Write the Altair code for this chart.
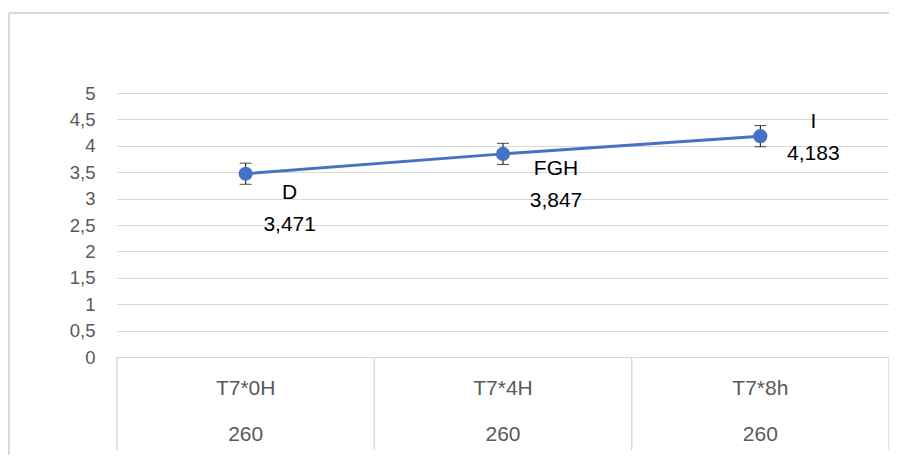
import altair as alt
import pandas as pd

# ---- data ----
categories = ["T7*0H", "T7*4H", "T7*8h"]
groups = ["260", "260", "260"]
means = [3.471, 3.847, 4.183]
errors = [0.2, 0.2, 0.2]
letters = ["D", "FGH", "I"]

# per-label offsets (pixels) relative to each point, as placed in the reference
label_offsets = [(44, 19), (53, 15), (53, -14)]

W, H = 772, 264
FONT = "Liberation Sans"
BLUE = "#4472C4"
GRID = "#d9d9d9"
AXT = "#595959"

df = pd.DataFrame({
    "cat": categories,
    "grp": groups,
    "pos": [i + 0.5 for i in range(len(categories))],
    "mean": means,
    "lo": [m - e for m, e in zip(means, errors)],
    "hi": [m + e for m, e in zip(means, errors)],
    "label": [f"{l}\n{m:.3f}".replace(".", ",") for l, m in zip(letters, means)],
})
sep = pd.DataFrame({"edge": list(range(len(categories) + 1))})

xs = alt.Scale(domain=[0, len(categories)], nice=False, zero=False)
ys = alt.Scale(domain=[0, 5], nice=False)

x = alt.X("pos:Q", scale=xs, axis=None)
yaxis = alt.Axis(
    values=[i * 0.5 for i in range(11)], grid=True, gridColor=GRID, gridWidth=1,
    domain=False, ticks=False, labelPadding=22, labelColor=AXT, labelFontSize=18.5,
    labelFont=FONT, title=None, labelOverlap=False, labelFlush=False,
    labelExpr="replace(toString(datum.value), '.', ',')")


def Y(field):
    return alt.Y(field, scale=ys, axis=yaxis, title=None)


base = alt.Chart(df)

err = base.mark_rule(color="black", strokeWidth=1).encode(x=x, y=Y("lo:Q"), y2="hi:Q")
cap_lo = base.mark_tick(color="black", orient="horizontal", size=12, thickness=1).encode(
    x=x, y=Y("lo:Q"))
cap_hi = base.mark_tick(color="black", orient="horizontal", size=12, thickness=1).encode(
    x=x, y=Y("hi:Q"))
line = base.mark_line(color=BLUE, strokeWidth=3).encode(x=x, y=Y("mean:Q"))
pts = base.mark_point(filled=True, shape="circle", size=200, color=BLUE, opacity=1).encode(
    x=x, y=Y("mean:Q"))

labels = []
for i, (dx, dy) in enumerate(label_offsets):
    labels.append(
        alt.Chart(df.iloc[[i]]).mark_text(
            font=FONT, fontSize=21, color="black", align="center", baseline="middle",
            lineBreak="\n", lineHeight=32, dx=dx, dy=dy
        ).encode(x=x, y=Y("mean:Q"), text="label:N")
    )

# category axis (two levels) drawn below the plot
row1 = base.mark_text(font=FONT, fontSize=21, color=AXT, baseline="middle").encode(
    x=x, y=alt.value(H + 32), text="cat:N")
row2 = base.mark_text(font=FONT, fontSize=21, color=AXT, baseline="middle").encode(
    x=x, y=alt.value(H + 78), text="grp:N")
seps = alt.Chart(sep).mark_rule(color=GRID, strokeWidth=1.5).encode(
    x=alt.X("edge:Q", scale=xs, axis=None), y=alt.value(H), y2=alt.value(H + 93))

# outer chart border (top and left sides visible)
one = pd.DataFrame({"k": [0]})
border_top = alt.Chart(one).mark_rule(color=GRID, strokeWidth=2).encode(
    x=alt.value(-108), x2=alt.value(W + 20), y=alt.value(-80))
border_left = alt.Chart(one).mark_rule(color=GRID, strokeWidth=2).encode(
    x=alt.value(-108), y=alt.value(-80), y2=alt.value(H + 130))

chart = alt.layer(
    border_top, border_left, seps, err, cap_lo, cap_hi, line, pts, *labels, row1, row2
).properties(
    width=W, height=H,
    autosize=alt.AutoSizeParams(type="none"),
    padding={"left": 109, "top": 85, "right": 0, "bottom": 98},
).configure_view(stroke=None)

chart.save("out.html", embed_options={"renderer": "svg", "actions": False})
